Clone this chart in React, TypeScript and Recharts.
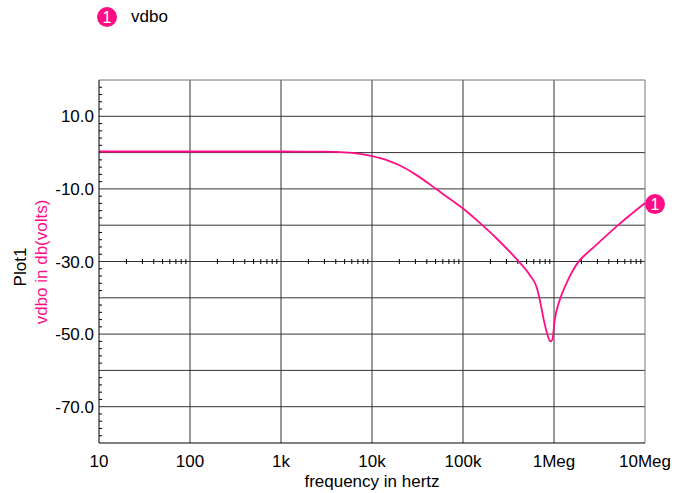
// Bode magnitude plot (vdbo) — log frequency axis, dB scale
import React from "react";
import { LineChart, Line, XAxis, YAxis, ReferenceLine } from "recharts";

const PINK = "#ff0d86";
const FONT = "Arial, 'Liberation Sans', sans-serif";
const FS = 17;

const FREQ = [
  10, 100, 1000, 3000, 5000, 7000, 10000, 15000, 20000, 30000, 50000, 70000,
  100000, 152000, 233000, 402000, 541000, 641000, 697000, 771000, 838000,
  913000, 960000, 1020000, 1160000, 1370000, 1600000, 1910000, 2400000,
  2920000, 4850000, 10000000,
];
const VDBO = [
  0.3, 0.3, 0.3, 0.25, 0.05, -0.3, -1.0, -2.2, -3.5, -6.0, -9.9, -12.6, -15.4,
  -19.3, -23.6, -29.8, -33.7, -36.9, -40.5, -46, -49.7, -52, -51.5, -46, -40.5,
  -36, -32.6, -29.7, -27.3, -25.4, -20.4, -13.9,
];

const X_TICKS = [10, 100, 1000, 10000, 100000, 1000000, 10000000];
const X_LABELS = ["10", "100", "1k", "10k", "100k", "1Meg", "10Meg"];
const Y_LABELS = [10, -10, -30, -50, -70];
const Y_GRID = [10, 0, -10, -20, -30, -40, -50, -60, -70];
const Y_MINOR = Array.from({ length: 51 }, (_, i) => 20 - i * 2);
const X_GRID = [100, 1000, 10000, 100000, 1000000];
// log minor ticks (2..9 of each decade) drawn along the -30 line
const X_MINOR = X_TICKS.slice(0, -1).flatMap((d) =>
  [2, 3, 4, 5, 6, 7, 8, 9].map((m) => d * m)
);

const data = FREQ.map((f, i) => ({ f, vdbo: VDBO[i] }));

function YTick(props: any) {
  const { x, y, payload } = props;
  const v = payload.value;
  const showLabel = Y_LABELS.includes(v);
  return (
    <g>
      {v > -80 && v < 20 && v % 10 !== 0 && (
        <line x1={x} x2={x + 3} y1={y} y2={y} stroke="#000" strokeWidth={1} />
      )}
      {showLabel && (
        <text
          x={x - 5}
          y={y}
          dy={6}
          textAnchor="end"
          fontSize={FS}
          fontFamily={FONT}
          fill="#000"
        >
          {v.toFixed(1)}
        </text>
      )}
    </g>
  );
}

function YAxisTitle() {
  return (
    <g fontFamily={FONT} fontSize={FS}>
      <text
        x={20}
        y={267}
        transform="rotate(-90 20 267)"
        textAnchor="middle"
        dominantBaseline="central"
        fill="#000"
      >
        Plot1
      </text>
      <text
        x={41}
        y={262}
        transform="rotate(-90 41 262)"
        textAnchor="middle"
        dominantBaseline="central"
        fill={PINK}
      >
        vdbo in db(volts)
      </text>
    </g>
  );
}

function LegendBox() {
  return (
    <div
      style={{
        position: "absolute",
        left: 96,
        top: 6,
        display: "flex",
        alignItems: "center",
        fontFamily: FONT,
        fontSize: FS,
      }}
    >
      <svg width={22} height={22}>
        <circle cx={11} cy={11} r={10} fill={PINK} />
        <text x={11} y={16.5} textAnchor="middle" fill="#fff" fontSize={16}>
          1
        </text>
      </svg>
      <span style={{ marginLeft: 13, color: "#000" }}>vdbo</span>
    </div>
  );
}

function EndDot(props: any) {
  const { cx, cy, index } = props;
  if (index !== data.length - 1) return <g key={`d${index}`} />;
  return (
    <g key={`d${index}`}>
      <circle cx={cx + 10} cy={cy + 1} r={10} fill={PINK} />
      <text
        x={cx + 10}
        y={cy + 6.5}
        textAnchor="middle"
        fill="#fff"
        fontSize={16}
        fontFamily={FONT}
      >
        1
      </text>
    </g>
  );
}

export default function App() {
  return (
    <div style={{ position: "absolute", left: 0, top: 0, width: 676, height: 493, background: "#fff" }}>
      <LineChart
        width={676}
        height={493}
        data={data}
        margin={{ top: 80, right: 31, bottom: 0, left: 0 }}
      >
        <XAxis
          dataKey="f"
          type="number"
          scale="log"
          domain={[10, 10000000]}
          ticks={X_TICKS}
          tickFormatter={(v) => X_LABELS[X_TICKS.indexOf(v)] ?? ""}
          height={50}
          tickLine={false}
          tickSize={0}
          tickMargin={12}
          axisLine={{ stroke: "#000" }}
          tick={{ fill: "#000", fontSize: FS, fontFamily: FONT }}
          interval={0}
          label={{
            value: "frequency in hertz",
            position: "insideBottom",
            offset: 6,
            fill: "#000",
            fontSize: FS,
            fontFamily: FONT,
          }}
        />
        <YAxis
          type="number"
          domain={[-80, 20]}
          ticks={Y_MINOR}
          interval={0}
          width={99}
          tickLine={false}
          tickSize={0}
          tickMargin={0}
          axisLine={{ stroke: "#000" }}
          tick={<YTick />}
          label={{ content: () => <YAxisTitle /> }}
        />
        {Y_GRID.map((v) => (
          <ReferenceLine key={`h${v}`} y={v} stroke="#333" strokeWidth={1} />
        ))}
        {X_GRID.map((v) => (
          <ReferenceLine key={`v${v}`} x={v} stroke="#333" strokeWidth={1} />
        ))}
        <ReferenceLine y={20} stroke="#777" strokeWidth={1} />
        <ReferenceLine x={10000000} stroke="#777" strokeWidth={1} />
        {X_MINOR.map((v) => (
          <ReferenceLine
            key={`m${v}`}
            segment={[
              { x: v, y: -30.7 },
              { x: v, y: -29.3 },
            ]}
            stroke="#000"
            strokeWidth={1}
          />
        ))}
        <Line
          type="monotone"
          dataKey="vdbo"
          stroke={PINK}
          strokeWidth={1.8}
          dot={EndDot}
          activeDot={false}
          isAnimationActive={false}
        />
      </LineChart>
      <LegendBox />
    </div>
  );
}
